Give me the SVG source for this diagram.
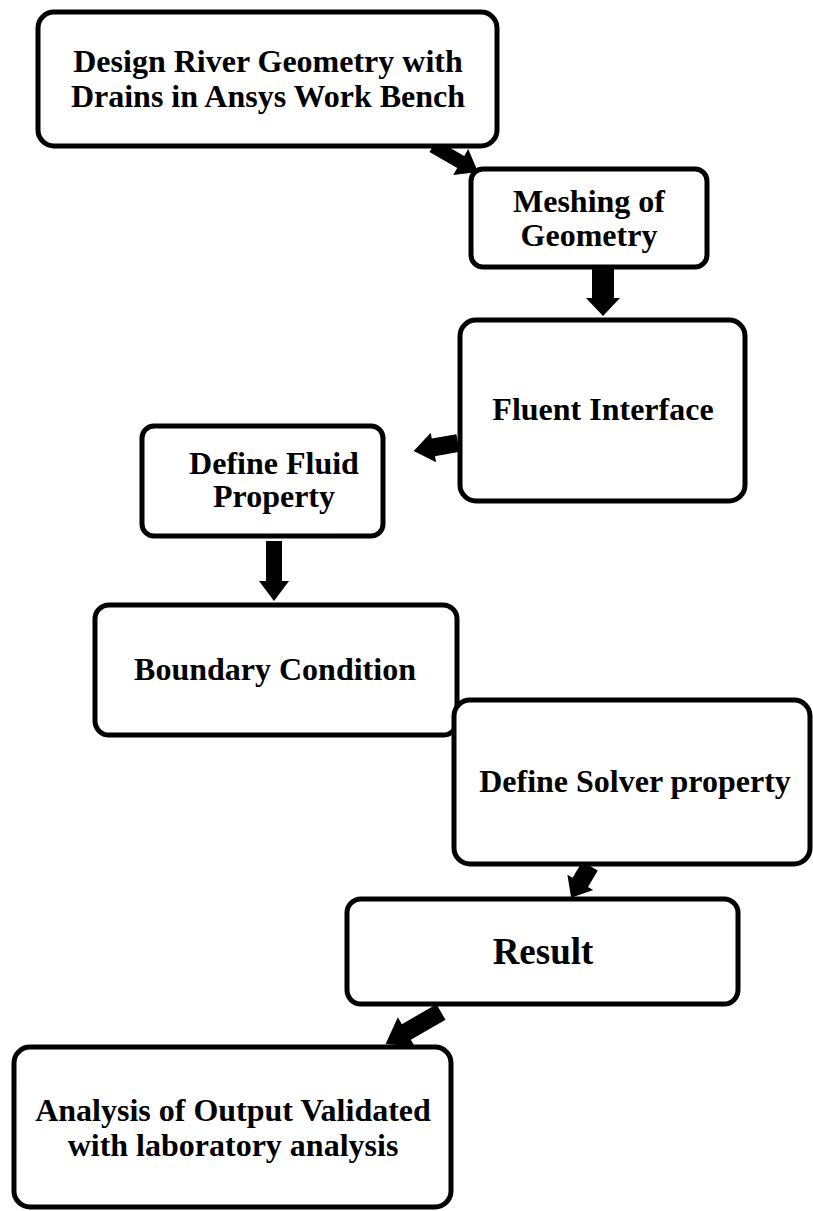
<svg xmlns="http://www.w3.org/2000/svg" width="813" height="1211" viewBox="0 0 813 1211">
<style>
.box{fill:#fff;stroke:#000;stroke-width:5}
.t{font-family:"Liberation Serif","Times New Roman",serif;font-weight:bold;font-size:32px;fill:#000;text-anchor:middle}
.arr{fill:#000}
</style>
<rect width="813" height="1211" fill="#fff"/>
<g id="connectors">
<polygon class="arr" transform="translate(433,146) rotate(30)" points="0,-7 32,-7 32,-15 52,0 32,15 32,7 0,7"/>
<polygon class="arr" transform="translate(603,268) rotate(90)" points="0,-11 30,-11 30,-17 48,0 30,17 30,11 0,11"/>
<polygon class="arr" transform="translate(458,443) rotate(169.7)" points="0,-9 25,-9 25,-15 45,0 25,15 25,9 0,9"/>
<polygon class="arr" transform="translate(274,541) rotate(90)" points="0,-8 40,-8 40,-15 60,0 40,15 40,8 0,8"/>
<polygon class="arr" transform="translate(590,866) rotate(120.7)" points="0,-9 19,-9 19,-15 37,0 19,15 19,9 0,9"/>
<polygon class="arr" transform="translate(441,1012) rotate(150)" points="0,-9 40,-9 40,-17 64,0 40,17 40,9 0,9"/>
</g>
<g id="n1"><rect class="box" x="38" y="12" width="459" height="134" rx="16"/>
<text class="t" x="268" y="72">Design River Geometry with</text>
<text class="t" x="268" y="107">Drains in Ansys Work Bench</text></g>
<g id="n2"><rect class="box" x="471" y="169" width="236" height="98" rx="12"/>
<text class="t" x="589" y="212">Meshing of</text>
<text class="t" x="589" y="246">Geometry</text></g>
<g id="n3"><rect class="box" x="460" y="320" width="285" height="181" rx="16"/>
<text class="t" x="603" y="420">Fluent Interface</text></g>
<g id="n4"><rect class="box" x="142" y="426" width="241" height="110" rx="12"/>
<text class="t" x="274" y="474">Define Fluid</text>
<text class="t" x="274" y="507">Property</text></g>
<g id="n5"><rect class="box" x="95" y="605" width="362" height="130" rx="14"/>
<text class="t" x="275" y="680">Boundary Condition</text></g>
<g id="n6"><rect class="box" x="454" y="700" width="356" height="164" rx="16"/>
<text class="t" x="635" y="792">Define Solver property</text></g>
<g id="n7"><rect class="box" x="347" y="899" width="391" height="105" rx="14"/>
<text class="t" x="543" y="964" style="font-size:37px">Result</text></g>
<g id="n8"><rect class="box" x="14" y="1047" width="437" height="160" rx="16"/>
<text class="t" x="233" y="1121">Analysis of Output Validated</text>
<text class="t" x="233" y="1156">with laboratory analysis</text></g>
</svg>
